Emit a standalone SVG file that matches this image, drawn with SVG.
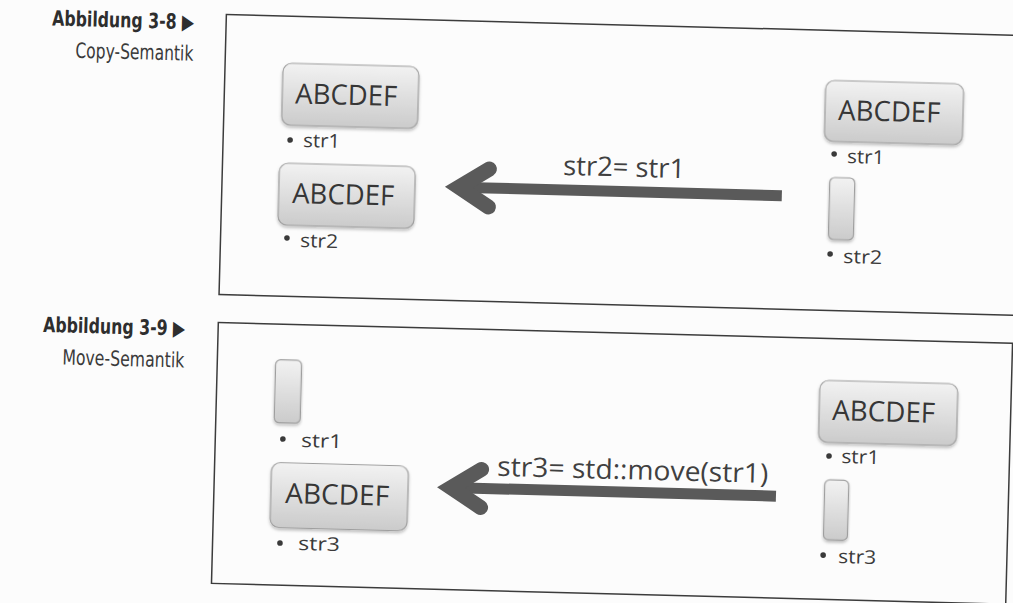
<svg xmlns="http://www.w3.org/2000/svg" width="1013" height="603" viewBox="0 0 1013 603">
  <defs>
    <linearGradient id="boxGrad" x1="0" y1="0" x2="0" y2="1">
      <stop offset="0" stop-color="#f2f2f2"/>
      <stop offset="1" stop-color="#cbcbcb"/>
    </linearGradient>
    <filter id="shadow" x="-10%" y="-10%" width="120%" height="130%">
      <feDropShadow dx="0" dy="2" stdDeviation="1.5" flood-color="#000" flood-opacity="0.25"/>
    </filter>
  </defs>
  <style>
    .panel { fill: none; stroke: #3c3c3c; stroke-width: 1.5; }
    .box { fill: url(#boxGrad); stroke: #9e9e9e; stroke-width: 1.2; filter: url(#shadow); }
    .val { font-family: "Open Sans", "Noto Sans", sans-serif; font-size: 28px; fill: #363636; }
    .var { font-family: "Open Sans", "Noto Sans", sans-serif; font-size: 19px; fill: #3a3a3a; }
    .op { font-family: "Open Sans", "Noto Sans", sans-serif; font-size: 27px; fill: #404040; }
    .bullet { fill: #3a3a3a; }
    .cap1 { font-family: "DejaVu Sans Condensed", "DejaVu Sans", sans-serif; font-stretch: condensed; font-weight: bold; font-size: 21px; fill: #2e2e2e; }
    .cap2 { font-family: "DejaVu Sans Condensed", "DejaVu Sans", sans-serif; font-stretch: condensed; font-size: 21px; fill: #3a3a3a; }
    .shaft { fill: none; stroke: #5a5a5a; stroke-width: 11; stroke-linecap: butt; }
    .head { fill: none; stroke: #5a5a5a; stroke-width: 15; stroke-linecap: round; stroke-linejoin: miter; stroke-miterlimit: 6; }
  </style>
  <rect width="1013" height="603" fill="#fcfcfc"/>
  <g transform="rotate(1.5 506 300)">
    <g id="captions">
      <text class="cap1" x="187" y="37.5" text-anchor="end" textLength="142" lengthAdjust="spacingAndGlyphs">Abbildung 3-8 ▶</text>
      <text class="cap2" x="187" y="69" text-anchor="end" textLength="118" lengthAdjust="spacingAndGlyphs">Copy-Semantik</text>
      <text class="cap1" x="186" y="344" text-anchor="end" textLength="142" lengthAdjust="spacingAndGlyphs">Abbildung 3-9 ▶</text>
      <text class="cap2" x="186" y="376" text-anchor="end" textLength="122" lengthAdjust="spacingAndGlyphs">Move-Semantik</text>
    </g>
    <g id="panels">
      <rect id="panel-copy" class="panel" x="219" y="22" width="830" height="280"/>
      <rect id="panel-move" class="panel" x="219" y="330" width="794.5" height="261"/>
    </g>

    <g id="connectors">
      <g id="arrow-copy">
        <line class="shaft" x1="462" y1="188.5" x2="779" y2="188.5"/>
        <polyline class="head" points="486,169.5 456,188.5 486,207.5"/>
        <text class="op" x="559.7" y="173.5" textLength="122" lengthAdjust="spacingAndGlyphs">str2= str1</text>
      </g>
      <g id="arrow-move">
        <line class="shaft" x1="462" y1="489" x2="781" y2="489"/>
        <polyline class="head" points="486,470 456,489 486,508"/>
        <text class="op" x="501.7" y="476" textLength="271" lengthAdjust="spacingAndGlyphs">str3= std::move(str1)</text>
      </g>
    </g>

    <g id="copy-left-str1">
      <rect class="box" x="277" y="69" width="136" height="62" rx="9"/>
      <text class="val" x="290" y="109" textLength="102" lengthAdjust="spacingAndGlyphs">ABCDEF</text>
      <circle class="bullet" cx="286" cy="145.7" r="2.8"/>
      <text class="var" x="299" y="152.3" textLength="37" lengthAdjust="spacingAndGlyphs">str1</text>
    </g>
    <g id="copy-left-str2">
      <rect class="box" x="276" y="169" width="136" height="62" rx="9"/>
      <text class="val" x="289.5" y="208.6" textLength="102" lengthAdjust="spacingAndGlyphs">ABCDEF</text>
      <circle class="bullet" cx="285.4" cy="243.7" r="2.8"/>
      <text class="var" x="298.6" y="252.4" textLength="38" lengthAdjust="spacingAndGlyphs">str2</text>
    </g>
    <g id="copy-right-str1">
      <rect class="box" x="820" y="72" width="138" height="61" rx="9"/>
      <text class="val" x="833.3" y="111.3" textLength="102" lengthAdjust="spacingAndGlyphs">ABCDEF</text>
      <circle class="bullet" cx="830.2" cy="145.4" r="2.8"/>
      <text class="var" x="843.4" y="154.1" textLength="37" lengthAdjust="spacingAndGlyphs">str1</text>
    </g>
    <g id="copy-right-str2">
      <rect class="box" x="826.6" y="169" width="25" height="62" rx="5"/>
      <circle class="bullet" cx="828.8" cy="245.5" r="2.8"/>
      <text class="var" x="842" y="254.2" textLength="39" lengthAdjust="spacingAndGlyphs">str2</text>
    </g>

    <g id="move-left-str1">
      <rect class="box" x="277.4" y="365.7" width="26" height="63" rx="5"/>
      <circle class="bullet" cx="286.6" cy="444.8" r="2.8"/>
      <text class="var" x="304.9" y="452.4" textLength="41" lengthAdjust="spacingAndGlyphs">str1</text>
    </g>
    <g id="move-left-str3">
      <rect class="box" x="276" y="468.5" width="137" height="65" rx="9"/>
      <text class="val" x="290.3" y="508.8" textLength="104" lengthAdjust="spacingAndGlyphs">ABCDEF</text>
      <circle class="bullet" cx="286.4" cy="548.9" r="2.8"/>
      <text class="var" x="304.5" y="555.4" textLength="42" lengthAdjust="spacingAndGlyphs">str3</text>
    </g>
    <g id="move-right-str1">
      <rect class="box" x="822" y="372" width="138" height="62" rx="9"/>
      <text class="val" x="835" y="411.5" textLength="103" lengthAdjust="spacingAndGlyphs">ABCDEF</text>
      <circle class="bullet" cx="833" cy="447.5" r="2.8"/>
      <text class="var" x="845.3" y="454.2" textLength="38" lengthAdjust="spacingAndGlyphs">str1</text>
    </g>
    <g id="move-right-str3">
      <rect class="box" x="829.5" y="471.4" width="24" height="60" rx="5"/>
      <circle class="bullet" cx="829.7" cy="546.7" r="2.8"/>
      <text class="var" x="844.9" y="554.3" textLength="38" lengthAdjust="spacingAndGlyphs">str3</text>
    </g>
  </g>
</svg>
